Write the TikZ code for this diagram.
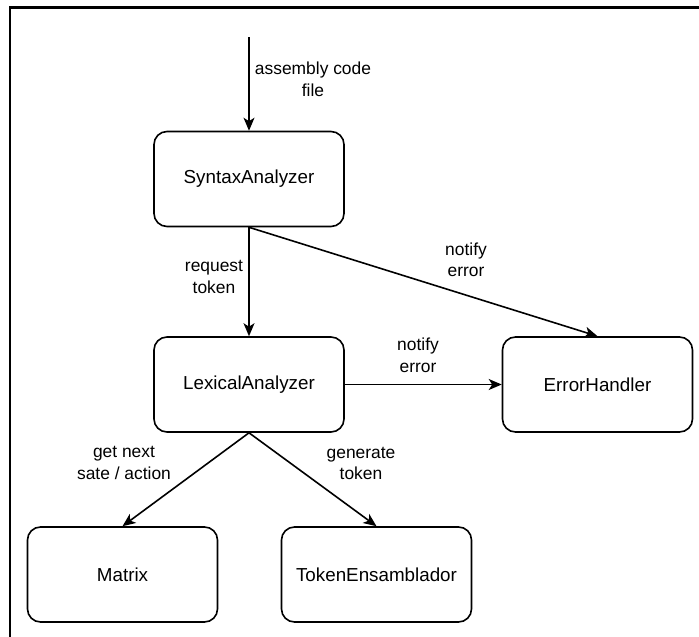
\documentclass[tikz,border=0pt]{standalone}
\usepackage{fontspec}
\setmainfont{Liberation Sans}
\usetikzlibrary{arrows.meta}
\begin{document}
\begin{tikzpicture}[x=1pt,y=-1pt,
  block/.style={draw, line width=1.6pt, rounded corners=13pt,
    minimum width=190pt, minimum height=95pt, inner sep=0pt,
    font=\fontsize{18.8pt}{22pt}\selectfont},
  flow/.style={draw, line width=1.6pt,
    -{Stealth[length=13pt,width=11pt,inset=3.5pt]}},
  lbl/.style={align=center, inner sep=1pt,
    font=\fontsize{17.4pt}{21.5pt}\selectfont}]
  \useasboundingbox (0,0) rectangle (699,637);
  % outer frame (top and left edges)
  \draw[line width=2.4pt] (10,637) -- (10,7.5) -- (699,7.5);

  % components
  \node[block] (syn) at (249,179) {SyntaxAnalyzer};
  \node[block] (lex) at (249,384.5) {LexicalAnalyzer};
  \node[block] (err) at (597.5,384.5) {ErrorHandler};
  \node[block] (mat) at (122.5,574.5) {Matrix};
  \node[block] (tok) at (376.5,574.5) {TokenEnsamblador};
  \coordinate (in) at (249,37);

  % connectors
  \draw[flow] (in) -- (syn.north);
  \draw[flow] (syn.south) -- (lex.north);
  \draw[flow] (syn.south) -- (err.north);
  \draw[flow] (lex.east) -- (err.west);
  \draw[flow] (lex.south) -- (mat.north);
  \draw[flow] (lex.south) -- (tok.north);

  % connector labels
  \node[lbl] (lin) at (313,79.5) {assembly code\\file};
  \node[lbl] (lreq) at (214,277) {request\\token};
  \node[lbl] (lne1) at (466,260) {notify\\error};
  \node[lbl] (lne2) at (418,355.5) {notify\\error};
  \node[lbl] (lget) at (124,463) {get next\\sate / action};
  \node[lbl] (lgen) at (361,463.5) {generate\\token};
\end{tikzpicture}
\end{document}
